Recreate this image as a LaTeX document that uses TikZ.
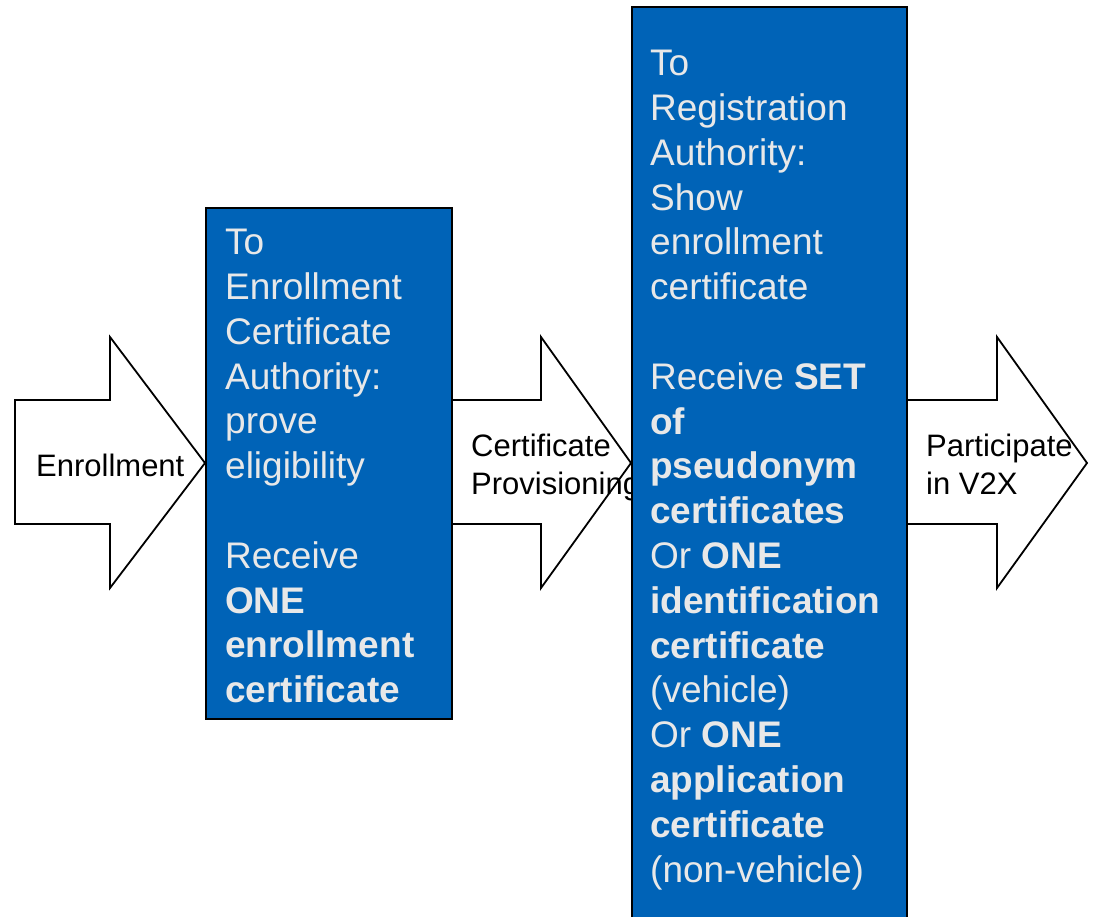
\documentclass[tikz,border=0pt]{standalone}
\usepackage{fontspec}
\setmainfont{Liberation Sans}
\usetikzlibrary{positioning}
\definecolor{boxblue}{RGB}{0,99,183}
\definecolor{boxtextgray}{RGB}{232,232,232}

\begin{document}
\begin{tikzpicture}[x=1pt, y=-1pt,
	stepbox/.style = {draw=black, line width=1.6pt, fill=boxblue,
		anchor=north west, inner sep=0pt},
	boxtext/.style = {text=boxtextgray, align=left, inner sep=0pt,
		font=\fontsize{37}{44.8}\selectfont},
	arrowtext/.style = {align=left, inner sep=0pt,
		font=\fontsize{31}{38}\selectfont},
	blockarrow/.style = {draw=black, line width=1.8pt, fill=white}]
	\useasboundingbox (0,0) rectangle (1099,916);
	\clip (0,0) rectangle (1099,916);
	\foreach \x/\b/\t in {15/110/205, 451/541/631, 906/997/1087} {
		\draw[blockarrow] (\x,400) -- (\b,400) -- (\b,337) -- (\t,463)
			-- (\b,588) -- (\b,524) -- (\x,524) -- cycle;
	}
	\node[arrowtext, anchor=base west] (enroltext) at (36,476) {Enrollment};
	\node[arrowtext, anchor=north west] (provtext) at (471,434) {Certificate\\Provisioning};
	\node[arrowtext, anchor=north west] (parttext) at (926,434) {Participate\\in V2X};
	\node[stepbox, minimum width=246pt, minimum height=511pt] (ecabox) at (205,207) {};
	\node[stepbox, minimum width=275pt, minimum height=940pt] (rabox) at (631,6) {};
	\node[boxtext, below right=22pt and 20pt of ecabox.north west] (ecatext)
		{To\\Enrollment\\Certificate\\Authority:\\prove\\eligibility\\[44.8pt]
		Receive\\\textbf{ONE}\\\textbf{enrollment}\\\textbf{certificate}};
	\node[boxtext, below right=44pt and 19pt of rabox.north west] (ratext)
		{To\\Registration\\Authority:\\Show\\enrollment\\certificate\\[44.8pt]
		Receive \textbf{SET}\\\textbf{of}\\\textbf{pseudonym}\\\textbf{certificates}\\
		Or \textbf{ONE}\\\textbf{identification}\\\textbf{certificate}\\(vehicle)\\
		Or \textbf{ONE}\\\textbf{application}\\\textbf{certificate}\\(non-vehicle)};
\end{tikzpicture}
\end{document}
